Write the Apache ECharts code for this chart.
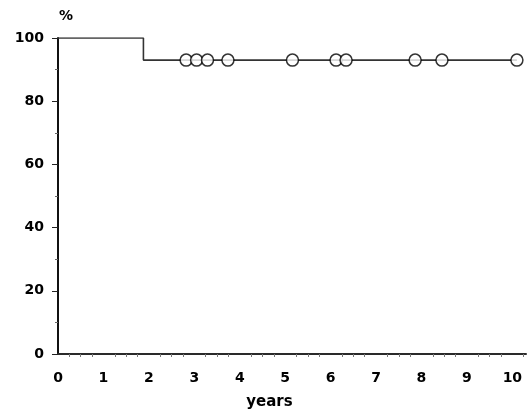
<!DOCTYPE html>
<html>
<head>
<meta charset="utf-8">
<script src="https://cdn.jsdelivr.net/npm/echarts@6/dist/echarts.min.js"></script>
<style>html,body{margin:0;padding:0;background:#fff}#c{width:527px;height:415px}</style>
</head>
<body>
<div id="c"></div>
<script>
// Kaplan-Meier curve: step points (years, %)
var stepYears = [0, 1.88, 10.1];
var stepValues = [100, 93, 93];
// Censored observations (open circles)
var censorYears = [2.82, 3.05, 3.29, 3.74, 5.16, 6.12, 6.34, 7.86, 8.45, 10.1];
var censorValues = [93, 93, 93, 93, 93, 93, 93, 93, 93, 93];
// Axis ticks
var xTicks = [0, 1, 2, 3, 4, 5, 6, 7, 8, 9, 10];
var yTicks = [0, 20, 40, 60, 80, 100];

var chart = echarts.init(document.getElementById('c'), null, {renderer: 'canvas'});
var font = 'DejaVu Sans';
chart.setOption({
  animation: false,
  backgroundColor: '#ffffff',
  grid: {left: 58, right: 1, top: 38, bottom: 60, containLabel: false},
  xAxis: {
    type: 'value', min: 0, max: 10.3, interval: 1,
    name: 'years', nameLocation: 'middle', nameGap: 41,
    nameTextStyle: {fontFamily: font, fontWeight: 'bold', fontSize: 15, color: '#000', padding: [0, 45, 0, 0]},
    axisLine: {show: true, lineStyle: {color: '#2a2a2a', width: 2}},
    axisTick: {show: false},
    minorTick: {show: true, splitNumber: 4, length: 3, lineStyle: {color: '#777', width: 1}},
    splitLine: {show: false},
    axisLabel: {
      margin: 17, fontFamily: font, fontWeight: 'bold', fontSize: 14, color: '#000',
      showMaxLabel: false,
      formatter: function (v) { return xTicks.indexOf(v) >= 0 ? String(v) : ''; }
    }
  },
  yAxis: {
    type: 'value', min: 0, max: 100, interval: 20,
    axisLine: {show: true, onZero: false, lineStyle: {color: '#111', width: 2}},
    axisTick: {show: true, length: 6, lineStyle: {color: '#222', width: 1}},
    minorTick: {show: true, splitNumber: 2, length: 3, lineStyle: {color: '#666', width: 1}},
    splitLine: {show: false},
    axisLabel: {
      margin: 14, fontFamily: font, fontWeight: 'bold', fontSize: 14, color: '#000',
      formatter: function (v) { return yTicks.indexOf(v) >= 0 ? String(v) : ''; }
    }
  },
  graphic: [{
    type: 'text', left: 59, top: 9,
    style: {text: '%', fontFamily: font, fontWeight: 'bold', fontSize: 14, fill: '#000'}
  }],
  series: [{
    type: 'line', step: 'end', showSymbol: false, symbol: 'none',
    data: stepYears.map(function (x, i) { return [x, stepValues[i]]; }),
    lineStyle: {color: '#333', width: 1.6},
    z: 2
  }, {
    type: 'scatter', symbol: 'circle', symbolSize: 12,
    data: censorYears.map(function (x, i) { return [x, censorValues[i]]; }),
    itemStyle: {color: '#ffffff', borderColor: '#000', borderWidth: 1.5},
    z: 3
  }]
});
</script>
</body>
</html>
